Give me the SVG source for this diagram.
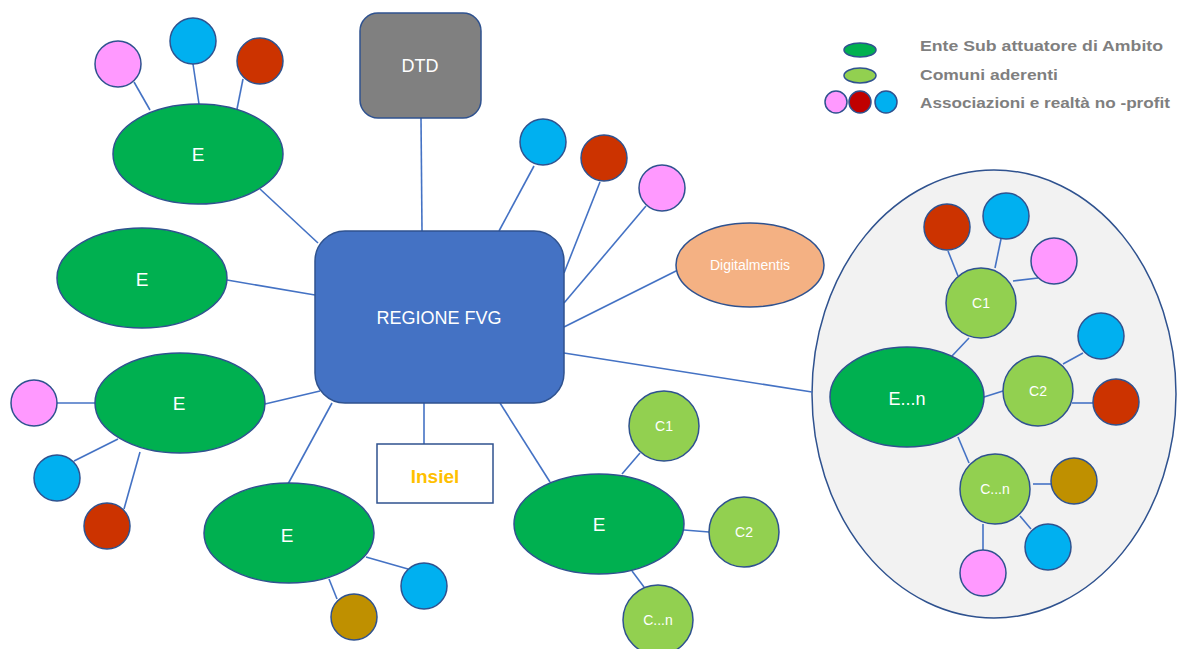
<svg xmlns="http://www.w3.org/2000/svg" width="1177" height="649" viewBox="0 0 1177 649">
<style>
.ln{stroke:#4472C4;stroke-width:1.6;fill:none}
.sh{stroke:#2F528F;stroke-width:1.5}
.eg{fill:#00B050}
.cg{fill:#92D050}
.pk{fill:#FF99FF}
.rd{fill:#CC3300}
.bl{fill:#00B0F0}
.gd{fill:#BF9000}
.wt{fill:#FFFFFF;font-family:"Liberation Sans",Arial,sans-serif;text-anchor:middle}
.lg{fill:#7F7F7F;font-family:"Liberation Sans",Arial,sans-serif;font-weight:bold;font-size:15px}
</style>
<rect width="1177" height="649" fill="#FFFFFF"/>
<g id="cluster">
<ellipse class="sh" cx="994" cy="394" rx="182" ry="224" fill="#F2F2F2"/>
</g>
<g id="connectors">
<line class="ln" x1="421" y1="118" x2="422" y2="231"/>
<line class="ln" x1="424" y1="403" x2="424" y2="444"/>
<line class="ln" x1="260" y1="189" x2="318" y2="243"/>
<line class="ln" x1="227" y1="280" x2="315" y2="295"/>
<line class="ln" x1="265" y1="404" x2="320" y2="391"/>
<line class="ln" x1="332" y1="403" x2="288" y2="484"/>
<line class="ln" x1="500" y1="403" x2="550" y2="482"/>
<line class="ln" x1="534" y1="166" x2="499" y2="231"/>
<line class="ln" x1="600" y1="182" x2="564" y2="273"/>
<line class="ln" x1="646" y1="206" x2="564" y2="303"/>
<line class="ln" x1="678" y1="270" x2="564" y2="327"/>
<line class="ln" x1="564" y1="353" x2="812" y2="392"/>
<line class="ln" x1="134" y1="82" x2="150" y2="110"/>
<line class="ln" x1="193" y1="64" x2="199" y2="104"/>
<line class="ln" x1="243" y1="79" x2="237" y2="109"/>
<line class="ln" x1="57" y1="403" x2="95" y2="403"/>
<line class="ln" x1="74" y1="461" x2="118" y2="439"/>
<line class="ln" x1="124" y1="509" x2="140" y2="452"/>
<line class="ln" x1="366" y1="557" x2="408" y2="569"/>
<line class="ln" x1="329" y1="579" x2="337" y2="599"/>
<line class="ln" x1="622" y1="474" x2="640" y2="453"/>
<line class="ln" x1="684" y1="530" x2="709" y2="532"/>
<line class="ln" x1="632" y1="571" x2="644" y2="587"/>
<line class="ln" x1="948" y1="251" x2="958" y2="276"/>
<line class="ln" x1="1001" y1="239" x2="995" y2="268"/>
<line class="ln" x1="1038" y1="278" x2="1013" y2="281"/>
<line class="ln" x1="969" y1="338" x2="952" y2="356"/>
<line class="ln" x1="984" y1="397" x2="1003" y2="391"/>
<line class="ln" x1="1063" y1="364" x2="1083" y2="353"/>
<line class="ln" x1="1072" y1="403" x2="1093" y2="403"/>
<line class="ln" x1="958" y1="437" x2="969" y2="463"/>
<line class="ln" x1="1033" y1="484" x2="1052" y2="484"/>
<line class="ln" x1="1020" y1="516" x2="1031" y2="529"/>
<line class="ln" x1="983" y1="524" x2="983" y2="550"/>
</g>
<g id="regione">
<rect class="sh" x="315" y="231" width="249" height="172" rx="30" fill="#4472C4"/>
<text class="wt" x="439" y="324" font-size="18">REGIONE FVG</text>
</g>
<g id="dtd">
<rect class="sh" x="360" y="13" width="121" height="105" rx="18" fill="#808080"/>
<text class="wt" x="420" y="72" font-size="18">DTD</text>
</g>
<g id="insiel">
<rect class="sh" x="377" y="444" width="116" height="59" fill="#FFFFFF"/>
<text x="435" y="483" font-size="19" font-weight="bold" fill="#FFC000" text-anchor="middle" font-family="'Liberation Sans',Arial,sans-serif">Insiel</text>
</g>
<g id="digitalmentis">
<ellipse class="sh" cx="750" cy="265" rx="74" ry="42" fill="#F4B183"/>
<text class="wt" x="750" y="270" font-size="14">Digitalmentis</text>
</g>
<g id="e-topleft">
<ellipse class="sh eg" cx="198" cy="154" rx="85" ry="50"/>
<text class="wt" x="198" y="161" font-size="19">E</text>
<circle class="sh pk" cx="118" cy="64" r="23"/>
<circle class="sh bl" cx="193" cy="41" r="23"/>
<circle class="sh rd" cx="260" cy="61" r="23"/>
</g>
<g id="e-midleft">
<ellipse class="sh eg" cx="142" cy="278" rx="85" ry="50"/>
<text class="wt" x="142" y="286" font-size="19">E</text>
</g>
<g id="e-lowleft">
<ellipse class="sh eg" cx="180" cy="403" rx="85" ry="50"/>
<text class="wt" x="179" y="410" font-size="19">E</text>
<circle class="sh pk" cx="34" cy="403" r="23"/>
<circle class="sh bl" cx="57" cy="478" r="23"/>
<circle class="sh rd" cx="107" cy="526" r="23"/>
</g>
<g id="e-bottom">
<ellipse class="sh eg" cx="289" cy="533" rx="85" ry="50"/>
<text class="wt" x="287" y="542" font-size="19">E</text>
<circle class="sh bl" cx="424" cy="586" r="23"/>
<circle class="sh gd" cx="354" cy="617" r="23"/>
</g>
<g id="e-bottomright">
<ellipse class="sh eg" cx="599" cy="524" rx="85" ry="50"/>
<text class="wt" x="599" y="531" font-size="19">E</text>
<circle class="sh cg" cx="664" cy="426" r="35"/>
<text class="wt" x="664" y="431" font-size="14">C1</text>
<circle class="sh cg" cx="744" cy="532" r="35"/>
<text class="wt" x="744" y="537" font-size="14">C2</text>
<circle class="sh cg" cx="658" cy="620" r="35"/>
<text class="wt" x="658" y="625" font-size="14">C...n</text>
</g>
<g id="assoc-top">
<circle class="sh bl" cx="543" cy="142" r="23"/>
<circle class="sh rd" cx="604" cy="158" r="23"/>
<circle class="sh pk" cx="662" cy="188" r="23"/>
</g>
<g id="e-n">
<ellipse class="sh eg" cx="907" cy="397" rx="77" ry="50"/>
<text class="wt" x="907" y="405" font-size="18">E...n</text>
<circle class="sh cg" cx="981" cy="303" r="35"/>
<text class="wt" x="981" y="308" font-size="14">C1</text>
<circle class="sh cg" cx="1038" cy="391" r="35"/>
<text class="wt" x="1038" y="396" font-size="14">C2</text>
<circle class="sh cg" cx="995" cy="489" r="35"/>
<text class="wt" x="995" y="494" font-size="14">C...n</text>
<circle class="sh rd" cx="947" cy="227" r="23"/>
<circle class="sh bl" cx="1006" cy="216" r="23"/>
<circle class="sh pk" cx="1054" cy="261" r="23"/>
<circle class="sh bl" cx="1101" cy="336" r="23"/>
<circle class="sh rd" cx="1116" cy="402" r="23"/>
<circle class="sh gd" cx="1074" cy="481" r="23"/>
<circle class="sh bl" cx="1048" cy="547" r="23"/>
<circle class="sh pk" cx="983" cy="573" r="23"/>
</g>
<g id="legend">
<ellipse class="sh eg" cx="860" cy="50" rx="16" ry="7"/>
<ellipse class="sh cg" cx="860" cy="75.5" rx="16" ry="7.5"/>
<circle class="sh pk" cx="836" cy="102" r="11"/>
<circle class="sh" cx="860" cy="102" r="11" fill="#C00000"/>
<circle class="sh bl" cx="886" cy="102" r="11"/>
<text class="lg" x="920" y="51" textLength="243" lengthAdjust="spacingAndGlyphs">Ente Sub attuatore di Ambito</text>
<text class="lg" x="920" y="80" textLength="138" lengthAdjust="spacingAndGlyphs">Comuni aderenti</text>
<text class="lg" x="920" y="108" textLength="250" lengthAdjust="spacingAndGlyphs">Associazioni e realtà no -profit</text>
</g>
</svg>
